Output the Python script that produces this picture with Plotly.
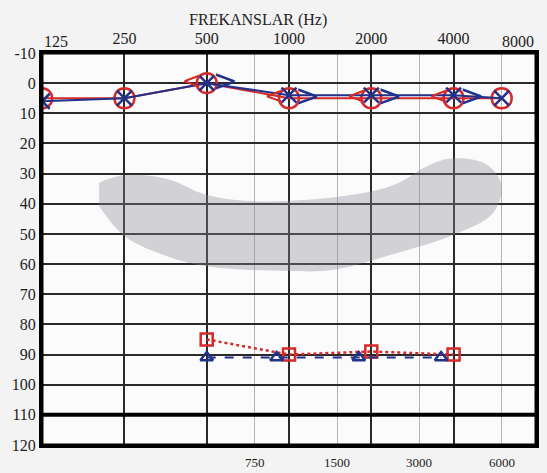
import math
import plotly.graph_objects as go

# ---------------- data ----------------
major_freqs = [125, 250, 500, 1000, 2000, 4000, 8000]
major_labels = ["125", "250", "500", "1000", "2000", "4000", "8000"]
minor_freqs = [750, 1500, 3000, 6000]
minor_labels = ["750", "1500", "3000", "6000"]
db_ticks = list(range(-10, 130, 10))
db_labels = [str(v) for v in db_ticks]
THICK_LINE_DB = 110

# air conduction
air_freqs = [125, 250, 500, 1000, 2000, 4000, 6000]
right_air = [5, 5, 0, 5, 5, 5, 5]      # red O
left_air = [6, 5, 0, 4, 4, 4, 5]       # blue X

# bone conduction (unmasked)
bone_freqs = [500, 1000, 2000, 4000]
right_bone = [0, 5, 5, 5]              # red <
left_bone = [0, 5, 5, 5]               # blue >

# marks at the bottom
right_sq_freqs = [500, 1000, 2000, 4000]
right_sq = [85, 90, 89, 90]            # red squares, dotted
left_tri_freqs = [500, 900, 1800, 3600]
left_tri = [91, 91, 91, 91]            # blue triangles, dashed

# speech banana outline
banana_freq = [202, 250, 356, 497, 692, 1015, 1853, 2490, 3170, 3900, 5220, 5980,
               5590, 3900, 2490, 1455, 1000, 500, 356, 250, 202]
banana_db = [33, 30.5, 31.7, 37, 39, 39, 36.5, 33.3, 27.7, 25, 26.7, 33.3,
             43, 50.7, 56.3, 61.9, 62.3, 60.7, 57.3, 50.7, 40.7]

RED = "#d42a2a"
BLUE = "#22318a"
FONT = "Liberation Serif"

fig = go.Figure()

fig.add_trace(go.Scatter(
    x=banana_freq, y=banana_db,
    mode="lines", fill="toself", line=dict(width=0, shape="spline"),
    fillcolor="rgba(135,137,150,0.36)", hoverinfo="skip", showlegend=False))

fig.add_trace(go.Scatter(
    x=air_freqs, y=right_air, mode="lines+markers",
    line=dict(color=RED, width=2),
    marker=dict(symbol="circle-open", size=20, line=dict(color=RED, width=2.5)),
    showlegend=False))
fig.add_trace(go.Scatter(
    x=air_freqs, y=left_air, mode="lines+markers",
    line=dict(color=BLUE, width=2),
    marker=dict(symbol="x-thin-open", size=15, line=dict(color=BLUE, width=2.5)),
    showlegend=False))

fig.add_trace(go.Scatter(
    x=bone_freqs, y=right_bone, mode="markers+text", text=["&lt;"] * len(bone_freqs),
    textposition="middle left",
    textfont=dict(family="DejaVu Sans", size=24, color=RED),
    marker=dict(size=6, color="rgba(0,0,0,0)"), showlegend=False))
fig.add_trace(go.Scatter(
    x=bone_freqs, y=left_bone, mode="markers+text", text=["&gt;"] * len(bone_freqs),
    textposition="middle right",
    textfont=dict(family="DejaVu Sans", size=30, color=BLUE),
    marker=dict(size=8, color="rgba(0,0,0,0)"), showlegend=False))

fig.add_trace(go.Scatter(
    x=right_sq_freqs, y=right_sq, mode="lines+markers",
    line=dict(color=RED, width=2.5, dash="dot"),
    marker=dict(symbol="square-open", size=12, line=dict(color=RED, width=2.5)),
    showlegend=False))
fig.add_trace(go.Scatter(
    x=left_tri_freqs, y=left_tri, mode="lines+markers",
    line=dict(color=BLUE, width=2, dash="dash"),
    marker=dict(symbol="triangle-up-open", size=11, line=dict(color=BLUE, width=2.5)),
    showlegend=False))

fig.add_hline(y=THICK_LINE_DB, line=dict(color="black", width=4))

# heavy frame around the chart
fig.add_shape(type="rect", xref="paper", yref="paper", x0=0, x1=1, y0=0, y1=1,
              line=dict(color="black", width=3), layer="above")

# bottom labels for the half-octave lines
for f, lab in zip(minor_freqs, minor_labels):
    fig.add_annotation(x=math.log10(f), xref="x", y=0, yref="paper",
                       yanchor="top", yshift=-8, text=lab, showarrow=False,
                       font=dict(family=FONT, size=13, color="#222"))

# end labels (125 / 8000) sit inside the frame edges
for f, lab, anchor in [(major_freqs[0], major_labels[0], "left"),
                       (major_freqs[-1], major_labels[-1], "right")]:
    fig.add_annotation(x=math.log10(f), xref="x", y=1, yref="paper",
                       xanchor=anchor, yanchor="bottom", yshift=1,
                       text=lab, showarrow=False,
                       font=dict(family=FONT, size=16, color="#222"))

xr = [math.log10(major_freqs[0]) - 0.0005, math.log10(major_freqs[-1]) + 0.0005]

fig.update_layout(
    template="none",
    width=547, height=473, autosize=False,
    margin=dict(l=42, r=11, t=53, b=28, pad=0, autoexpand=False),
    paper_bgcolor="#f3f3f3", plot_bgcolor="#fbfbfb",
    font=dict(family=FONT, color="#222"),
    title=dict(text="FREKANSLAR (Hz)", x=0.472, xref="container", xanchor="center",
               y=0.958, yref="container", yanchor="middle",
               font=dict(family=FONT, size=16, color="#222")),
    xaxis=dict(type="log", range=xr, side="top", automargin=False,
               tickvals=major_freqs[1:-1], ticktext=major_labels[1:-1],
               tickfont=dict(family=FONT, size=16, color="#222"),
               showgrid=True, gridcolor="#2a2a2a", gridwidth=1.5,
               minor=dict(tickvals=minor_freqs, showgrid=True,
                          gridcolor="#b5b5b5", gridwidth=1, ticks=""),
               showline=True, linecolor="black", linewidth=3, mirror=True,
               ticks="", zeroline=False),
    yaxis=dict(range=[120, -10], tickvals=db_ticks, ticktext=db_labels,
               automargin=False,
               tickfont=dict(family=FONT, size=16, color="#222"),
               showgrid=True, gridcolor="#2a2a2a", gridwidth=1.5,
               showline=True, linecolor="black", linewidth=3, mirror=True,
               ticks="", zeroline=False),
)

fig.write_html("out.html", config={"displayModeBar": False},
               post_script="document.body.style.margin='0';")
